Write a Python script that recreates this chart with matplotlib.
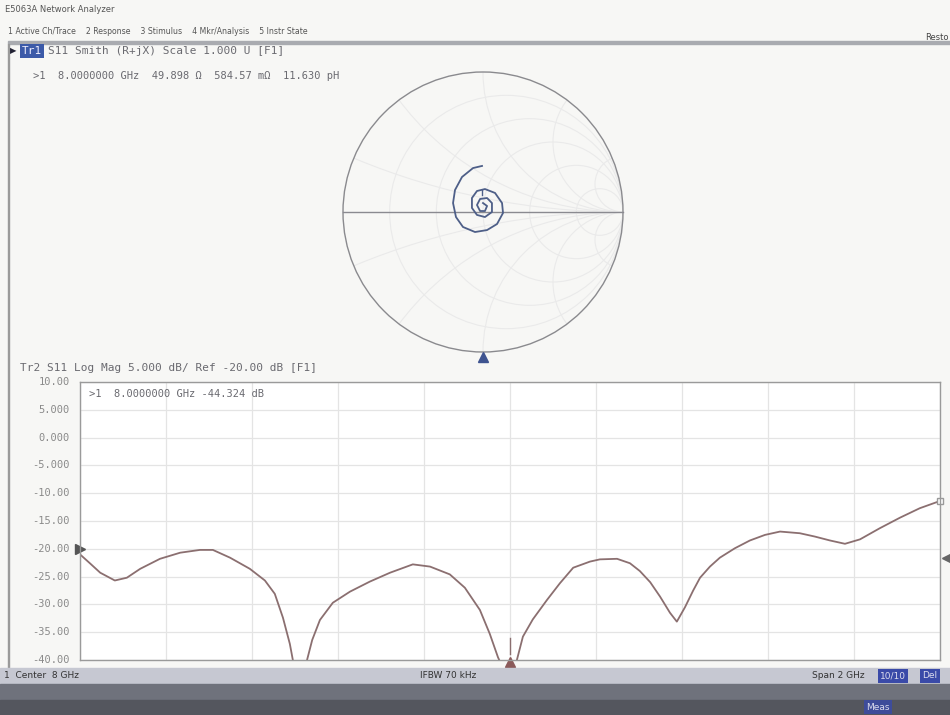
import numpy as np
import matplotlib
matplotlib.use("Agg")
import matplotlib.pyplot as plt
from matplotlib.patches import Circle, Rectangle

# ---- data ----
# S11 log mag, 7 - 9 GHz
freq_ghz = [7.000, 7.023, 7.047, 7.081, 7.109, 7.140, 7.186, 7.233, 7.279, 7.309,
            7.349, 7.395, 7.430, 7.453, 7.472, 7.488, 7.495, 7.512, 7.528, 7.540,
            7.558, 7.588, 7.628, 7.674, 7.721, 7.774, 7.814, 7.860, 7.895, 7.930,
            7.953, 7.972, 8.000, 8.016, 8.030, 8.053, 8.086, 8.116, 8.147, 8.186,
            8.209, 8.249, 8.279, 8.302, 8.326, 8.349, 8.372, 8.388, 8.407, 8.426,
            8.442, 8.465, 8.488, 8.523, 8.558, 8.593, 8.628, 8.674, 8.709, 8.744,
            8.779, 8.814, 8.860, 8.907, 8.953, 9.000]
s11_db = [-21.0, -22.6, -24.3, -25.7, -25.2, -23.6, -21.8, -20.7, -20.2, -20.2,
          -21.6, -23.6, -25.7, -28.1, -32.4, -37.1, -40.0, -46.0, -40.0, -36.4,
          -32.8, -29.7, -27.7, -25.9, -24.3, -22.8, -23.2, -24.6, -27.0, -31.0,
          -35.3, -39.5, -44.3, -40.0, -35.8, -32.7, -29.2, -26.2, -23.4, -22.3,
          -21.9, -21.8, -22.6, -24.0, -26.0, -28.6, -31.5, -33.1, -30.5, -27.5,
          -25.2, -23.2, -21.6, -19.9, -18.5, -17.5, -16.9, -17.2, -17.8, -18.5,
          -19.1, -18.3, -16.3, -14.4, -12.7, -11.4]

# S11 on the Smith chart (reflection coefficient, re / im), inner -> outer
gamma_re = [0.000, 0.029, 0.014, -0.021, -0.043, -0.021, 0.029, 0.064, 0.064, 0.014,
            -0.043, -0.079, -0.079, -0.043, 0.014, 0.086, 0.136, 0.143, 0.100, 0.029,
            -0.057, -0.143, -0.193, -0.214, -0.200, -0.150, -0.071, -0.007]
gamma_im = [0.064, 0.043, 0.007, 0.007, 0.050, 0.093, 0.100, 0.064, 0.000, -0.036,
            -0.021, 0.029, 0.100, 0.150, 0.164, 0.136, 0.064, -0.007, -0.086, -0.129,
            -0.143, -0.107, -0.036, 0.064, 0.157, 0.250, 0.314, 0.329]

ytick_vals = [10, 5, 0, -5, -10, -15, -20, -25, -30, -35, -40]
ytick_text = ["10.00", "5.000", "0.000", "-5.000", "-10.00", "-15.00",
              "-20.00", "-25.00", "-30.00", "-35.00", "-40.00"]

W, H = 950, 715
mono = "DejaVu Sans Mono"
txt_col = "#6a6a70"


def fx(x):
    return x / W


def fy(y):
    return 1 - y / H


fig = plt.figure(figsize=(9.5, 7.15), dpi=100)
fig.patch.set_facecolor("#f7f7f5")

# ---- window chrome ----
fig.text(fx(5), fy(10), "E5063A Network Analyzer", fontsize=6, color="#555",
         va="center")
fig.text(fx(8), fy(32), "1 Active Ch/Trace    2 Response    3 Stimulus    "
         "4 Mkr/Analysis    5 Instr State", fontsize=5.6, color="#555", va="center")
fig.text(fx(925), fy(38), "Resto", fontsize=6, color="#444", va="center")
fig.patches.append(Rectangle((fx(8), fy(44)), fx(942), 3 / H, transform=fig.transFigure,
                             color="#a9abb0", zorder=1))
fig.patches.append(Rectangle((fx(8), fy(668)), 1.2 / W, 624 / H, transform=fig.transFigure,
                             color="#9a9a9a", zorder=1))

# bottom status bars
fig.patches.append(Rectangle((0, fy(684)), 1, 16 / H, transform=fig.transFigure,
                             color="#c6c8d2", zorder=1))
fig.patches.append(Rectangle((0, fy(700)), 1, 16 / H, transform=fig.transFigure,
                             color="#6f727c", zorder=1))
fig.patches.append(Rectangle((0, 0), 1, 15 / H, transform=fig.transFigure,
                             color="#54565e", zorder=1))
fig.text(fx(4), fy(676), "1  Center  8 GHz", fontsize=6.5, color="#333", va="center")
fig.text(fx(420), fy(676), "IFBW 70 kHz", fontsize=6.5, color="#333", va="center")
fig.text(fx(812), fy(676), "Span 2 GHz", fontsize=6.5, color="#333", va="center")
fig.text(fx(893), fy(676), "10/10", fontsize=6.5, color="#dde",
         va="center", ha="center",
         bbox=dict(boxstyle="square,pad=0.25", fc="#3a4aa8", ec="none"))
fig.text(fx(930), fy(676), "Del", fontsize=6.5, color="#dde", va="center", ha="center",
         bbox=dict(boxstyle="square,pad=0.25", fc="#3a4aa8", ec="none"))
fig.text(fx(878), fy(707), "Meas", fontsize=6.5, color="#dde", va="center", ha="center",
         bbox=dict(boxstyle="square,pad=0.3", fc="#3e4c9a", ec="none"))

# ---- upper trace: Smith chart ----
fig.text(fx(10), fy(51), "\u25B6", fontsize=6, color="#223", va="center")
fig.text(fx(22), fy(51), "Tr1", fontsize=8, family=mono, color="#eef", va="center",
         bbox=dict(boxstyle="square,pad=0.15", fc="#3c5aa8", ec="none"))
fig.text(fx(48), fy(51), "S11 Smith (R+jX) Scale 1.000 U [F1]", fontsize=8,
         family=mono, color=txt_col, va="center")
fig.text(fx(33), fy(76), ">1  8.0000000 GHz  49.898 \u03A9  584.57 m\u03A9  11.630 pH",
         fontsize=7.5, family=mono, color=txt_col, va="center")

R = 140
cx, cy = 483, 212
m = 143 / R
sax = fig.add_axes([fx(cx - 143), fy(cy + 143), 286 / W, 286 / H])
sax.set_xlim(-m, m)
sax.set_ylim(-m, m)
sax.set_aspect("equal")
sax.axis("off")

clip = Circle((0, 0), 1, transform=sax.transData, fc="none", ec="none")
sax.add_patch(clip)
grid_col = "#eaeaea"
for r in [0.2, 0.5, 1.0, 2.0, 5.0]:
    c = Circle((r / (1 + r), 0), 1 / (1 + r), fc="none", ec=grid_col, lw=0.8)
    sax.add_patch(c)
    c.set_clip_path(clip)
for xr in [0.2, 0.5, 1.0, 2.0, 5.0]:
    for s in (1, -1):
        c = Circle((1, s / xr), 1 / xr, fc="none", ec=grid_col, lw=0.8)
        sax.add_patch(c)
        c.set_clip_path(clip)
sax.add_patch(Circle((0, 0), 1, fc="none", ec="#8a8a8e", lw=1.0))
sax.plot([-1, 1], [0, 0], color="#8a8a90", lw=1.0)
sax.plot(gamma_re, gamma_im, color="#4e5f88", lw=1.3)
sax.plot([-0.007, -0.007], [0.12, 0.16], color="#4e5f88", lw=1)
sax.plot([0], [-1.035], marker="^", ms=7, color="#3f5490", clip_on=False)

# ---- lower trace: log magnitude ----
fig.text(fx(20), fy(368), "Tr2 S11 Log Mag 5.000 dB/ Ref -20.00 dB [F1]", fontsize=8,
         family=mono, color=txt_col, va="center")

lax = fig.add_axes([fx(80), fy(660), 860 / W, 278 / H])
lax.set_facecolor("white")
lax.set_xlim(7.0, 9.0)
lax.set_ylim(-40, 10)
lax.set_xticks(np.linspace(7.0, 9.0, 11))
lax.set_yticks(ytick_vals)
lax.grid(True, color="#e4e4e4", lw=0.9)
lax.tick_params(length=0, labelbottom=False, labelleft=False)
for sp in lax.spines.values():
    sp.set_color("#9a9a9a")
    sp.set_linewidth(1.0)
for v, t in zip(ytick_vals, ytick_text):
    lax.text(-0.012, (v + 40) / 50, t, transform=lax.transAxes, ha="right",
             va="center", fontsize=7.5, family=mono, color="#8a8a8a")

lax.plot(freq_ghz, s11_db, color="#8b6f70", lw=1.3)
lax.text(0.01, 0.975, ">1  8.0000000 GHz -44.324 dB", transform=lax.transAxes,
         fontsize=7.5, family=mono, color=txt_col, va="top")
lax.plot([7.0], [-20], marker=">", ms=7, color="#555", clip_on=False)
lax.plot([9.015], [-21.6], marker="<", ms=6, color="#666", clip_on=False)
lax.plot([9.0], [-11.4], marker="s", ms=4, mfc="white", mec="#999", clip_on=False)
lax.plot([8.0], [-40.3], marker="^", ms=7, color="#8b5a5a", clip_on=False)
lax.plot([8.0, 8.0], [-39, -36], color="#8b6f70", lw=1)

fig.savefig("out.png", dpi=100, facecolor=fig.get_facecolor())
